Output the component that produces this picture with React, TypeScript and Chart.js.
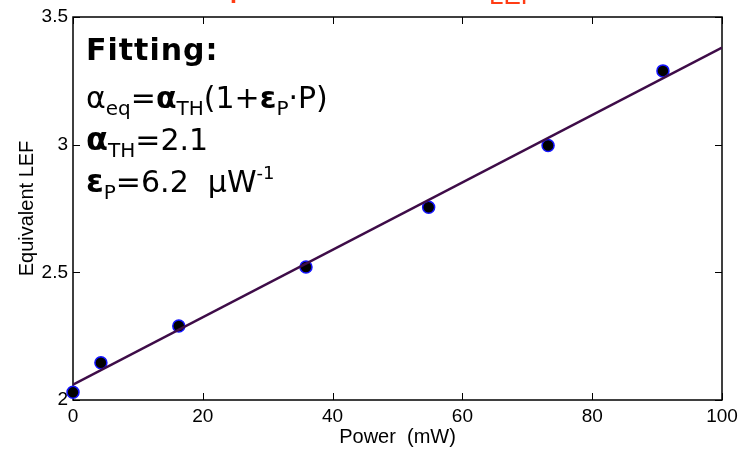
import React, { useEffect, useRef } from "react";
import { Chart, registerables } from "chart.js";

Chart.register(...registerables);

// ---- data ----
const powerMW = [0, 4.3, 16.3, 35.9, 54.8, 73.2, 90.9];
const lefValues = [2.03, 2.146, 2.29, 2.521, 2.755, 2.997, 3.289];
const fitPower = [0, 100];
const fitLef = [2.06, 3.38];
const xTickValues = [0, 20, 40, 60, 80, 100];
const yTickValues = [2, 2.5, 3, 3.5];
const xTitle = "Power  (mW)";
const yTitle = "Equivalent LEF";
const topTitleMain = "Power dependence of α";
const topTitleSub = "LEF";

const AX_FONT = '"Liberation Sans", Arial, sans-serif';
const NOTE_FONT = '"DejaVu Sans", sans-serif';

type Seg = { t: string; size: number; bold?: boolean; dy?: number };
type NoteLine = { x: number; y: number; segs: Seg[]; spacing?: string };

const noteLines: NoteLine[] = [
  { x: 86, y: 60, spacing: "1px", segs: [{ t: "Fitting:", size: 30, bold: true }] },
  {
    x: 86,
    y: 108,
    segs: [
      { t: "α", size: 30 },
      { t: "eq", size: 20, dy: 7 },
      { t: "=", size: 30 },
      { t: "α", size: 30, bold: true },
      { t: "TH", size: 20, dy: 7 },
      { t: "(1+", size: 30 },
      { t: "ε", size: 30, bold: true },
      { t: "P", size: 20, dy: 7 },
      { t: "·P)", size: 30 },
    ],
  },
  {
    x: 86,
    y: 150,
    segs: [
      { t: "α", size: 32, bold: true },
      { t: "TH", size: 20, dy: 7 },
      { t: "=2.1", size: 30 },
    ],
  },
  {
    x: 86,
    y: 192,
    segs: [
      { t: "ε", size: 32, bold: true },
      { t: "P", size: 20, dy: 7 },
      { t: "=6.2  ", size: 30 },
      { t: "μ", size: 30 },
      { t: "W", size: 30 },
      { t: "-1", size: 18, dy: -13 },
    ],
  },
];

const framePlugin = {
  id: "matlabFrame",
  beforeDatasetsDraw(chart: any) {
    const { ctx, chartArea } = chart;
    const { left, right, top, bottom } = chartArea;
    const xs = chart.scales.x;
    const ys = chart.scales.y;
    ctx.save();
    ctx.strokeStyle = "#000";
    ctx.lineWidth = 1.5;
    ctx.strokeRect(left, top, right - left, bottom - top);
    ctx.lineWidth = 1;
    const tl = 7;
    ctx.beginPath();
    xTickValues.forEach((v) => {
      const px = Math.round(xs.getPixelForValue(v)) + 0.5;
      ctx.moveTo(px, bottom);
      ctx.lineTo(px, bottom - tl);
      ctx.moveTo(px, top);
      ctx.lineTo(px, top + tl);
    });
    yTickValues.forEach((v) => {
      const py = Math.round(ys.getPixelForValue(v)) + 0.5;
      ctx.moveTo(left, py);
      ctx.lineTo(left + tl, py);
      ctx.moveTo(right, py);
      ctx.lineTo(right - tl, py);
    });
    ctx.stroke();
    ctx.restore();
  },
};

const notePlugin = {
  id: "notes",
  afterDraw(chart: any) {
    const ctx = chart.ctx as CanvasRenderingContext2D;
    ctx.save();
    ctx.fillStyle = "#000";
    ctx.textBaseline = "alphabetic";
    ctx.textAlign = "left";
    noteLines.forEach((line) => {
      let x = line.x;
      (ctx as any).letterSpacing = line.spacing || "0px";
      line.segs.forEach((s) => {
        ctx.font = `${s.bold ? "bold " : ""}${s.size}px ${NOTE_FONT}`;
        ctx.fillText(s.t, x, line.y + (s.dy || 0));
        x += ctx.measureText(s.t).width;
      });
    });
    (ctx as any).letterSpacing = "0px";
    // clipped title at the very top
    ctx.fillStyle = "#ff3c14";
    ctx.font = `40px ${AX_FONT}`;
    ctx.fillText(topTitleMain, 60, -5);
    ctx.font = `26px ${AX_FONT}`;
    ctx.fillText(topTitleSub, 489, 4);
    ctx.restore();
  },
};

export default function App() {
  const ref = useRef<HTMLCanvasElement>(null);
  useEffect(() => {
    document.body.style.margin = "0";
    const chart = new Chart(ref.current as HTMLCanvasElement, {
      type: "scatter",
      data: {
        datasets: [
          {
            type: "line",
            label: "fit",
            data: fitPower.map((x, i) => ({ x, y: fitLef[i] })),
            borderColor: "#3e0c48",
            borderWidth: 2.5,
            pointRadius: 0,
            fill: false,
            order: 0,
          } as any,
          {
            type: "scatter",
            label: "measured",
            data: powerMW.map((x, i) => ({ x, y: lefValues[i] })),
            pointRadius: 6,
            pointHoverRadius: 6,
            backgroundColor: "#000",
            borderColor: "#1414ff",
            borderWidth: 1.5,
            clip: false,
            order: 1,
          } as any,
        ],
      },
      options: {
        responsive: false,
        animation: false,
        devicePixelRatio: 1,
        layout: { padding: { top: 17, right: 18, left: 0, bottom: 0 } },
        plugins: { legend: { display: false }, tooltip: { enabled: false } },
        scales: {
          x: {
            type: "linear",
            min: 0,
            max: 100,
            grid: { display: false, drawTicks: false, tickLength: 0 },
            border: { display: false },
            ticks: {
              stepSize: 20,
              color: "#000",
              padding: 5,
              maxRotation: 0,
              font: { family: AX_FONT, size: 19 },
            },
            title: {
              display: true,
              text: xTitle,
              color: "#000",
              font: { family: AX_FONT, size: 20 },
              padding: { top: 0, bottom: 1 },
            },
            afterFit: (s: any) => {
              s.height = 50;
              s.paddingRight = 0;
            },
          },
          y: {
            type: "linear",
            min: 2,
            max: 3.5,
            grid: { display: false, drawTicks: false, tickLength: 0 },
            border: { display: false },
            ticks: {
              stepSize: 0.5,
              color: "#000",
              padding: 5,
              font: { family: AX_FONT, size: 19 },
              callback: (v: any) => String(Number(v)),
            },
            title: {
              display: true,
              text: yTitle,
              color: "#000",
              font: { family: AX_FONT, size: 20 },
              padding: { top: 15, bottom: 0 },
            },
            afterFit: (s: any) => {
              s.width = 73;
            },
          },
        },
      } as any,
      plugins: [framePlugin, notePlugin],
    });
    return () => chart.destroy();
  }, []);
  return (
    <div style={{ width: 740, height: 450 }}>
      <canvas ref={ref} width={740} height={450} />
    </div>
  );
}
